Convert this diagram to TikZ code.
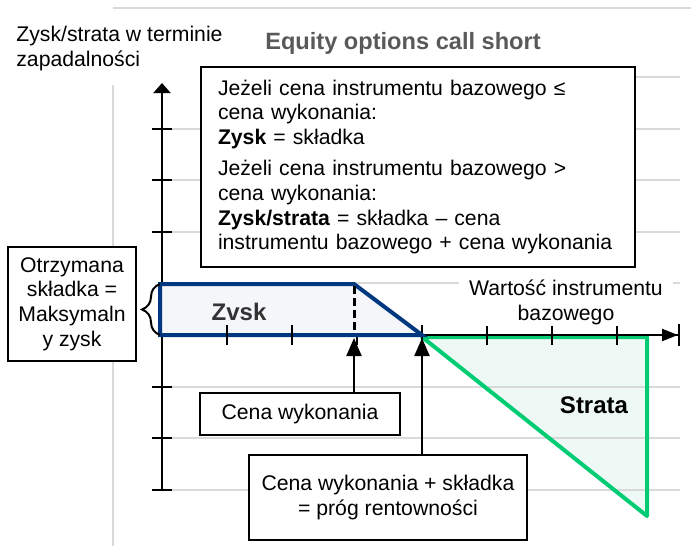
\documentclass[tikz,border=0pt]{standalone}
\usepackage{fontspec}
\setmainfont{Liberation Sans}
\usetikzlibrary{arrows.meta,decorations.pathreplacing}
\definecolor{navy}{RGB}{0,56,128}
\definecolor{mint}{RGB}{0,204,115}
\definecolor{navyfill}{RGB}{244,246,250}
\definecolor{mintfill}{RGB}{238,248,244}
\definecolor{gridgrey}{RGB}{217,217,217}
\definecolor{titlegrey}{RGB}{89,89,89}
\newcommand{\bodyfont}{\fontsize{10.6}{12.4}\selectfont}

\begin{document}
\begin{tikzpicture}[x=0.5pt, y=-0.5pt,
  every node/.style={font=\bodyfont},
  bold/.style={font=\fontsize{12}{14}\selectfont\bfseries},
  box/.style={draw, line width=1pt, fill=white, inner sep=0pt},
  gridline/.style={draw=gridgrey, line width=1pt},
  axis/.style={line width=1pt},
  pointer/.style={line width=1pt, -{Triangle[length=9pt, width=7.5pt]}}]
  \useasboundingbox (0,0) rectangle (691,546);
  \draw[gridline] (113,8) -- (691,8);
  \draw[gridline] (113,85) -- (113,546);
  \fill[mintfill] (422,337) -- (647,337) -- (647,516) -- cycle;
  \draw[gridline] (200,77) -- (680,77);
  \foreach \y in {129,180,232,283,387,438,490}
    \draw[gridline] (172,\y) -- (680,\y);
  \draw[mint, line width=2pt, line join=round] (422,337) -- (647,337) -- (647,516) -- cycle;
  \draw[axis, -{Triangle[length=8pt, width=6pt] Bar[width=11pt]}] (162,335) -- (680,335);
  \draw[axis, -{Triangle[length=5pt, width=8.5pt]}] (162,490) -- (162,83);
  \foreach \y in {129,180,232,387,438,490}
    \draw[axis] (152,\y) -- (172,\y);
  \foreach \x in {227,292,357,422,487,552,617}
    \draw[axis] (\x,325) -- (\x,345);
  \filldraw[navy, fill=navyfill, line width=2pt] (160,284) -- (354,284) -- (422,335) -- (160,335) -- cycle;
  \foreach \x in {227,292}
    \draw[axis] (\x,325) -- (\x,345);
  \draw[line width=1.5pt, dash pattern=on 4pt off 2pt] (354,286) -- (354,333);
  \draw[line width=1pt, decorate, decoration={brace, amplitude=9pt}] (160,335) -- (160,284);

  \node[font=\fontsize{11.8}{14}\selectfont\bfseries, text=titlegrey] (title) at (403,43) {Equity options call short};
  \node[anchor=north west, align=left, inner sep=0pt] (ylabel) at (16,26) {Zysk/strata w terminie\\zapadalności};
  \node[box, anchor=north west, minimum width=217pt, minimum height=100pt, text width=200pt,
    inner xsep=8.5pt, align=left] (rule) at (200,66)
    {Jeżeli cena instrumentu bazowego ≤\\cena wykonania:\\\textbf{Zysk} = składka\\[3pt]
     Jeżeli cena instrumentu bazowego >\\cena wykonania:\\\textbf{Zysk/strata} = składka – cena\\
     instrumentu bazowego + cena wykonania};
  \node[box, minimum width=64pt, minimum height=57pt, align=center] (premium) at (72,304)
    {Otrzymana\\składka =\\Maksymaln\\y zysk};
  \node[bold, text=black!80] (profit) at (239,312) {Zvsk};
  \node[bold] (loss) at (594,405) {Strata};
  \node[fill=white, align=center, inner sep=1pt, minimum width=107pt] (underlying) at (566,302)
    {Wartość instrumentu\\bazowego};
  \node[box, minimum width=100pt, minimum height=21pt] (strikebox) at (300,414) {Cena wykonania};
  \node[box, minimum width=139pt, minimum height=42.5pt, align=center] (breakbox) at (388,497.5)
    {Cena wykonania + składka\\= próg rentowności};
  \coordinate (strike) at (354,338);
  \coordinate (breakeven) at (422,338);
  \draw[pointer] (strikebox.north -| strike) -- (strike);
  \draw[pointer] (breakbox.north -| breakeven) -- (breakeven);
\end{tikzpicture}
\end{document}
